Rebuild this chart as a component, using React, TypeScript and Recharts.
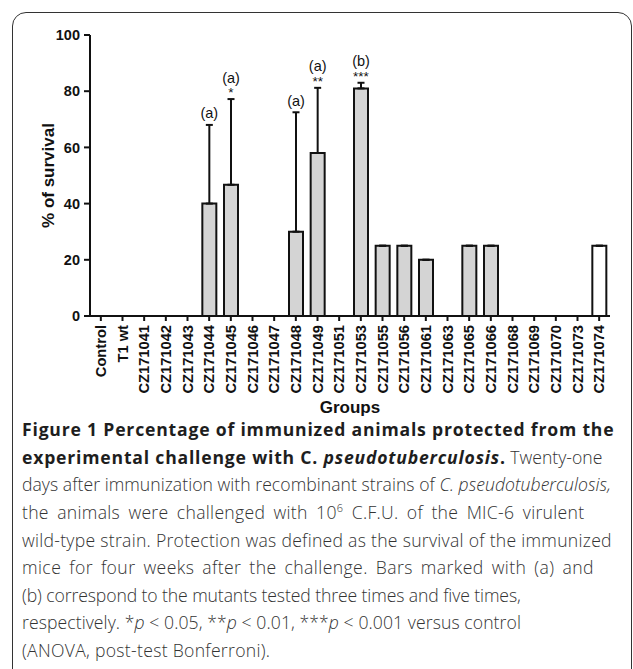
import React from 'react';
import { BarChart, Bar, XAxis, YAxis, ErrorBar, Cell, LabelList, Label } from 'recharts';

const categories = [
  'Control', 'T1 wt', 'CZ171041', 'CZ171042', 'CZ171043', 'CZ171044', 'CZ171045', 'CZ171046',
  'CZ171047', 'CZ171048', 'CZ171049', 'CZ171051', 'CZ171053', 'CZ171055', 'CZ171056', 'CZ171061',
  'CZ171063', 'CZ171065', 'CZ171066', 'CZ171068', 'CZ171069', 'CZ171070', 'CZ171073', 'CZ171074',
];
const survival = [0, 0, 0, 0, 0, 40, 46.7, 0, 0, 30, 58, 0, 81, 25, 25, 20, 0, 25, 25, 0, 0, 0, 0, 25];
const errorUp = [0, 0, 0, 0, 0, 28, 30.5, 0, 0, 42.5, 23.2, 0, 2, 0, 0, 0, 0, 0, 0, 0, 0, 0, 0, 0];
const letters = ['', '', '', '', '', '(a)', '(a)', '', '', '(a)', '(a)', '', '(b)', '', '', '', '', '', '', '', '', '', '', ''];
const stars = ['', '', '', '', '', '', '*', '', '', '', '**', '', '***', '', '', '', '', '', '', '', '', '', '', ''];
const openBars = ['CZ171074'];
const yTicks = [0, 20, 40, 60, 80, 100];

const data = categories.map((name, i) => ({
  name,
  survival: survival[i],
  err: [0, errorUp[i]],
  gap: errorUp[i],
  annot: letters[i] ? `${letters[i]}|${stars[i]}` : '',
}));

const FONT = '"Liberation Sans", Arial, Helvetica, sans-serif';
const INK = '#111';

const XTick = (props: any) => {
  const { x, y, payload } = props;
  return (
    <text
      x={x}
      y={y}
      transform={`rotate(-90 ${x} ${y})`}
      textAnchor="end"
      dominantBaseline="central"
      fontFamily={FONT}
      fontSize={14.7}
      fontWeight={700}
      fill={INK}
    >
      {payload.value}
    </text>
  );
};

const renderAnnot = (props: any) => {
  const vb = props.viewBox || props;
  const value = props.value;
  if (!value) return null;
  const [letter, star] = String(value).split('|');
  const cx = Number(vb.x) + Number(vb.width) / 2;
  const top = Number(vb.y);
  return (
    <g>
      {star ? (
        <text x={cx} y={top - 2} textAnchor="middle" fontFamily={FONT} fontSize={13.5} fill={INK}>
          {star}
        </text>
      ) : null}
      <text x={cx} y={top - (star ? 16.5 : 6.5)} textAnchor="middle" fontFamily={FONT} fontSize={14.5} fill={INK}>
        {letter}
      </text>
    </g>
  );
};

const renderYLabel = (props: any) => {
  const vb = props.viewBox;
  const x = vb.x + 8;
  const y = vb.y + vb.height / 2;
  return (
    <text
      x={x}
      y={y}
      transform={`rotate(-90 ${x} ${y})`}
      textAnchor="middle"
      dominantBaseline="central"
      fontFamily={FONT}
      fontSize={17}
      fontWeight={700}
      fill={INK}
    >
      % of survival
    </text>
  );
};

const renderXLabel = (props: any) => {
  const vb = props.viewBox;
  return (
    <text
      x={vb.x + vb.width / 2}
      y={vb.y + 91}
      textAnchor="middle"
      dominantBaseline="central"
      fontFamily={FONT}
      fontSize={17}
      fontWeight={700}
      fill={INK}
    >
      Groups
    </text>
  );
};

const CAP_FONT = '"Open Sans", "Noto Sans", sans-serif';
const LH = 27.6;
const FIRST = 430;
const B: React.CSSProperties = { fontWeight: 700, color: '#1e1e1e', letterSpacing: '0.8px' };
const lineSpacing = [0, 0, 0.04, 0.3, 0.28, 0.42, -0.1, 0.08, 0.3];
const wordGap = [0, 0, 0, 3.5, 0, 3, 0, 0, 0];

const capLines: React.ReactNode[] = [
  <span style={B}>Figure 1 Percentage of immunized animals protected from the</span>,
  <>
    <span style={B}>
      experimental challenge with C. <i>pseudotuberculosis</i>.
    </span>{' '}
    Twenty-one
  </>,
  <>
    days after immunization with recombinant strains of <i>C. pseudotuberculosis,</i>
  </>,
  <>
    the animals were challenged with 10
    <sup style={{ fontSize: '0.62em', verticalAlign: 'super', lineHeight: 0 }}>6</sup> C.F.U. of the MIC-6 virulent
  </>,
  <>wild-type strain. Protection was defined as the survival of the immunized</>,
  <>mice for four weeks after the challenge. Bars marked with (a) and</>,
  <>(b) correspond to the mutants tested three times and five times,</>,
  <>
    respectively. *<i>p</i> &lt; 0.05, **<i>p</i> &lt; 0.01, ***<i>p</i> &lt; 0.001 versus control
  </>,
  <>(ANOVA, post-test Bonferroni).</>,
];

export default function App() {
  return (
    <div
      style={{
        position: 'absolute',
        left: 0,
        top: 0,
        width: 633,
        height: 669,
        overflow: 'hidden',
        background: '#fff',
      }}
    >
      <div
        style={{
          position: 'absolute',
          left: 12,
          top: 12,
          width: 618,
          height: 720,
          border: '1.5px solid #333',
          borderRadius: 14,
        }}
      />
      <div style={{ position: 'absolute', left: 0, top: 0 }}>
        <BarChart
          width={633}
          height={420}
          data={data}
          margin={{ top: 35, right: 23, left: 40, bottom: 9 }}
        >
          <XAxis
            dataKey="name"
            interval={0}
            height={95}
            tickSize={5}
            tickMargin={4}
            tick={(p: any) => <XTick {...p} />}
            axisLine={{ stroke: INK, strokeWidth: 2 }}
            tickLine={{ stroke: INK, strokeWidth: 2 }}
          >
            <Label content={renderXLabel} />
          </XAxis>
          <YAxis
            domain={[0, 100]}
            ticks={yTicks}
            width={50}
            tickSize={6}
            tickMargin={4}
            tick={{ fill: INK, fontSize: 14.5, fontWeight: 700, fontFamily: FONT }}
            axisLine={{ stroke: INK, strokeWidth: 2 }}
            tickLine={{ stroke: INK, strokeWidth: 2 }}
          >
            <Label content={renderYLabel} />
          </YAxis>
          <Bar
            dataKey="survival"
            stackId="s"
            barSize={14}
            stroke={INK}
            strokeWidth={2}
            isAnimationActive={false}
          >
            {data.map((d) => (
              <Cell key={d.name} fill={openBars.includes(d.name) ? '#ffffff' : '#d4d4d4'} />
            ))}
            <ErrorBar dataKey="err" width={3.5} stroke={INK} strokeWidth={2} direction="y" />
          </Bar>
          <Bar dataKey="gap" stackId="s" barSize={14} fill="none" stroke="none" isAnimationActive={false}>
            <LabelList dataKey="annot" content={renderAnnot} />
          </Bar>
        </BarChart>
      </div>
      {capLines.map((line, i) => (
        <div
          key={i}
          style={{
            position: 'absolute',
            left: 22,
            top: FIRST + i * LH - LH / 2,
            height: LH,
            lineHeight: `${LH}px`,
            fontFamily: CAP_FONT,
            fontSize: 17.6,
            fontWeight: 300,
            color: '#333',
            whiteSpace: 'nowrap',
            letterSpacing: `${lineSpacing[i]}px`,
            wordSpacing: `${wordGap[i]}px`,
          }}
        >
          {line}
        </div>
      ))}
    </div>
  );
}
